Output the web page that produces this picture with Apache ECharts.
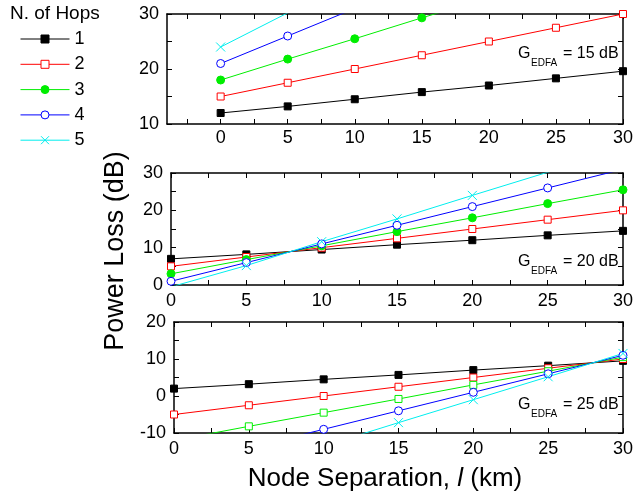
<!DOCTYPE html>
<html><head><meta charset="utf-8">
<script src="https://cdn.jsdelivr.net/npm/echarts@6/dist/echarts.min.js"></script>
<style>html,body{margin:0;padding:0;background:#fff}#c{width:636px;height:499px}</style>
</head><body><div id="c"></div>
<script>
// ---- data ----
const distances = [0, 5, 10, 15, 20, 25, 30];
const hopNames = ['1', '2', '3', '4', '5'];
const gainLabels = ['15', '20', '25'];

// G_EDFA = 15 dB
const g15_h1 = [12, 13.2, 14.5, 15.8, 17, 18.3, 19.6];
const g15_h2 = [15, 17.5, 20, 22.5, 25, 27.5, 30];
const g15_h3 = [18, 21.8, 25.5, 29.3, 33, 36.8, 40.5];
const g15_h4 = [21, 26, 31, 36, 41, 46, 51];
const g15_h5 = [24, 30.2, 36.4, 42.6, 48.8, 55, 61.2];
// G_EDFA = 20 dB
const g20_h1 = [7, 8.2, 9.5, 10.8, 12, 13.3, 14.5];
const g20_h2 = [5, 7.5, 10, 12.5, 15, 17.5, 20];
const g20_h3 = [3, 6.8, 10.5, 14.3, 18, 21.8, 25.5];
const g20_h4 = [1, 6, 11, 16, 21, 26, 31];
const g20_h5 = [-0.5, 5.2, 11.6, 17.7, 24, 30.2, 36.5];
// G_EDFA = 25 dB
const g25_h1 = [2, 3.2, 4.5, 5.7, 7, 8.2, 9.5];
const g25_h2 = [-5, -2.5, 0, 2.5, 5, 7.5, 10];
const g25_h3 = [-12, -8.2, -4.5, -0.8, 3, 6.7, 10.5];
const g25_h4 = [-19, -14, -9, -4, 1, 6, 11];
const g25_h5 = [-26, -19.8, -13.5, -7.2, -1, 5.2, 11.5];

const panelData = [
  [g15_h1, g15_h2, g15_h3, g15_h4, g15_h5],
  [g20_h1, g20_h2, g20_h3, g20_h4, g20_h5],
  [g25_h1, g25_h2, g25_h3, g25_h4, g25_h5]
];

// tick labels / tick positions
const xTickLabels = [0, 5, 10, 15, 20, 25, 30];
const xTicksTop = [-2.5, 0, 2.5, 5, 7.5, 10, 12.5, 15, 17.5, 20, 22.5, 25, 27.5, 30];
const xTicks = [0, 2.5, 5, 7.5, 10, 12.5, 15, 17.5, 20, 22.5, 25, 27.5, 30];
const yTickLabels = [[10, 20, 30], [0, 10, 20, 30], [-10, 0, 10, 20]];
const yTicks = [[10, 15, 20, 25, 30], [0, 5, 10, 15, 20, 25, 30], [-10, -5, 0, 5, 10, 15, 20]];
const xRanges = [[-4, 30], [0, 30], [0, 30]];
const yRanges = [[10, 30], [0, 30], [-10, 20]];

// ---- layout / style ----
const FONT = 'Liberation Sans, Arial, sans-serif';
const grids = [
  { left: 167, top: 14, width: 458, height: 110 },
  { left: 171, top: 173, width: 459, height: 112 },
  { left: 174, top: 322, width: 453, height: 111 }
];
const xLabelMargin = [5, 7, 7];
const annotY = [54, 262, 405];

const CROSS = 'path://M0,0L10,10M0,10L10,0';
const hopStyles = [
  { color: '#000000', symbol: 'rect', fill: '#000000', size: 7 },
  { color: '#ff0000', symbol: 'rect', fill: '#ffffff', size: 7 },
  { color: '#00ee00', symbol: 'circle', fill: '#00ee00', size: 8 },
  { color: '#0000ff', symbol: 'circle', fill: '#ffffff', size: 8 },
  { color: '#00eeee', symbol: CROSS, fill: '#00eeee', size: 9 }
];

const xAxes = [], yAxes = [], series = [];
const tickCommon = { show: true, inside: true, length: 5, lineStyle: { color: '#000', width: 1 } };
const lineCommon = { show: true, onZero: false, lineStyle: { color: '#000', width: 1.5 } };

grids.forEach((g, p) => {
  const xt = p === 0 ? xTicksTop : xTicks;
  xAxes.push({
    type: 'value', gridIndex: p, position: 'bottom', min: xRanges[p][0], max: xRanges[p][1],
    axisLine: lineCommon, splitLine: { show: false },
    axisTick: Object.assign({}, tickCommon, { customValues: xt }),
    axisLabel: { customValues: xTickLabels, fontSize: 18, color: '#000', fontFamily: FONT, margin: xLabelMargin[p], hideOverlap: false }
  });
  xAxes.push({
    type: 'value', gridIndex: p, position: 'top', min: xRanges[p][0], max: xRanges[p][1],
    axisLine: lineCommon, splitLine: { show: false },
    axisTick: Object.assign({}, tickCommon, { customValues: xt }),
    axisLabel: { show: false }
  });
  yAxes.push({
    type: 'value', gridIndex: p, position: 'left', min: yRanges[p][0], max: yRanges[p][1],
    axisLine: lineCommon, splitLine: { show: false },
    axisTick: Object.assign({}, tickCommon, { customValues: yTicks[p] }),
    axisLabel: { customValues: yTickLabels[p], fontSize: 18, color: '#000', fontFamily: FONT, margin: 8, hideOverlap: false }
  });
  yAxes.push({
    type: 'value', gridIndex: p, position: 'right', min: yRanges[p][0], max: yRanges[p][1],
    axisLine: lineCommon, splitLine: { show: false },
    axisTick: Object.assign({}, tickCommon, { customValues: yTicks[p] }),
    axisLabel: { show: false }
  });
  panelData[p].forEach((vals, h) => {
    const st = hopStyles[h];
    let symbol = st.symbol, fill = st.fill;
    if (p === 2 && h === 2) { symbol = 'rect'; fill = '#ffffff'; }
    series.push({
      type: 'line', name: hopNames[h], xAxisIndex: p * 2, yAxisIndex: p * 2,
      data: distances.map((d, i) => [d, vals[i]]),
      symbol: symbol, symbolSize: (p === 2 && h === 2) ? 7 : st.size,
      showAllSymbol: true, clip: true,
      lineStyle: { color: st.color, width: 1 },
      itemStyle: { color: fill, borderColor: st.color, borderWidth: 1 },
      emphasis: { disabled: true }
    });
  });
});

const graphics = [
  { type: 'text', left: 10, top: 4, style: { text: 'N. of Hops', fontSize: 19, fontFamily: FONT, fill: '#000' } },
  { type: 'text', x: 116, y: 251, rotation: Math.PI / 2,
    style: { text: 'Power Loss (dB)', fontSize: 27, fontFamily: FONT, fill: '#000', align: 'center', verticalAlign: 'middle' } },
  { type: 'text', x: 385, y: 479,
    style: { text: '{n|Node Separation, }{i|l}{n| (km)}', fontSize: 26, fontFamily: FONT, fill: '#000', align: 'center', verticalAlign: 'middle',
      rich: { n: { fontSize: 26, fontFamily: FONT, fill: '#000' }, i: { fontSize: 26, fontFamily: FONT, fontStyle: 'italic', fill: '#000' } } } }
];
gainLabels.forEach((gl, p) => {
  const y = annotY[p];
  graphics.push({ type: 'text', x: 518, y: y, style: { text: 'G', fontSize: 16, fontFamily: FONT, fill: '#000', verticalAlign: 'middle' } });
  graphics.push({ type: 'text', x: 531, y: y + 9, style: { text: 'EDFA', fontSize: 10, fontFamily: FONT, fill: '#000', verticalAlign: 'middle' } });
  graphics.push({ type: 'text', x: 563, y: y, style: { text: '= ' + gl + ' dB', fontSize: 16, fontFamily: FONT, fill: '#000', verticalAlign: 'middle' } });
});

const chart = echarts.init(document.getElementById('c'), null, { renderer: 'canvas' });
chart.setOption({
  animation: false,
  backgroundColor: '#fff',
  textStyle: { fontFamily: FONT },
  grid: grids,
  xAxis: xAxes,
  yAxis: yAxes,
  legend: {
    data: hopNames, orient: 'vertical', left: 15, top: 25, itemWidth: 49, itemHeight: 10, itemGap: 7.3,
    selectedMode: false, textStyle: { fontSize: 18, color: '#000', fontFamily: FONT },
    lineStyle: { width: 1 }, itemStyle: { borderWidth: 1 }
  },
  graphic: graphics,
  series: series
});
</script></body></html>
